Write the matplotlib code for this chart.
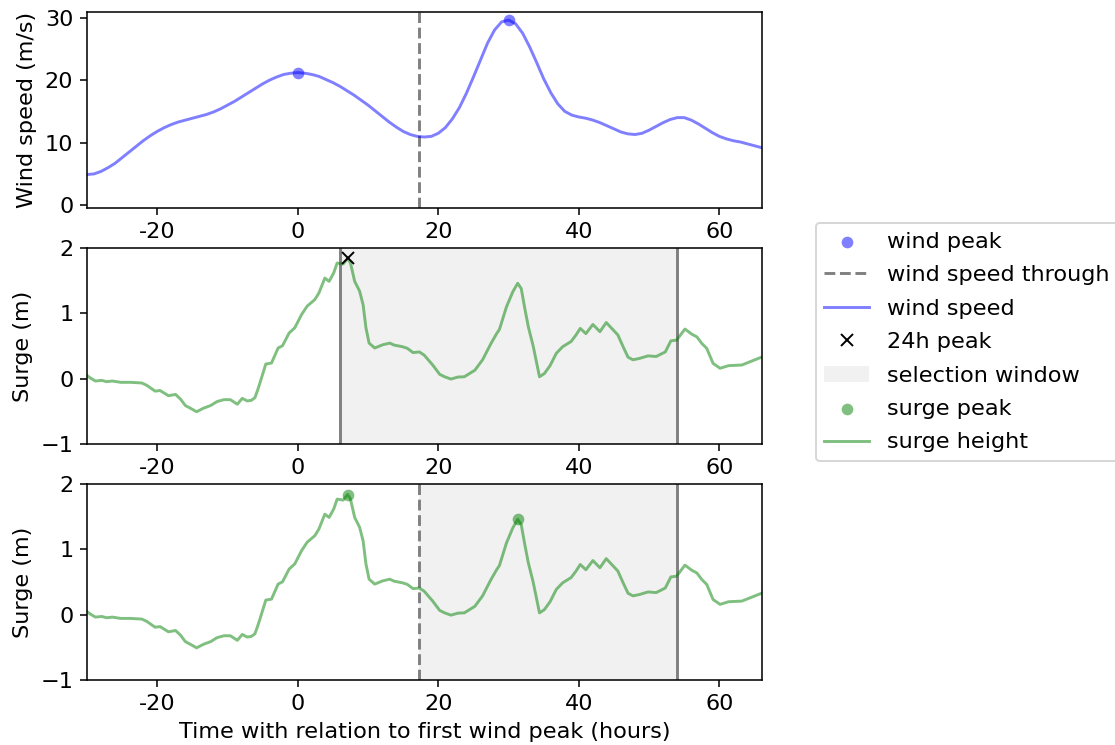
import matplotlib
matplotlib.use('Agg')
import matplotlib.pyplot as plt
import numpy as np

plt.rcParams['font.size'] = 11.5

# wind speed, hourly, relative to first wind peak
hours = np.arange(-30, 67)
wind_speed = [4.9, 5.0, 5.4, 6.0, 6.7, 7.6, 8.5, 9.4, 10.3, 11.1,
              11.8, 12.4, 12.9, 13.3, 13.6, 13.9, 14.2, 14.5, 14.9, 15.4,
              16.0, 16.6, 17.3, 18.0, 18.7, 19.4, 20.0, 20.5, 20.9, 21.1,
              21.2, 21.1, 20.9, 20.6, 20.1, 19.6, 19.0, 18.3, 17.6, 16.8,
              16.0, 15.1, 14.2, 13.3, 12.5, 11.8, 11.3, 11.0, 10.9, 11.0,
              11.5, 12.4, 13.8, 15.6, 17.9, 20.5, 23.2, 25.9, 28.0, 29.3,
              29.6, 29.0, 27.5, 25.3, 22.8, 20.2, 18.0, 16.2, 15.0, 14.4,
              14.1, 13.9, 13.6, 13.2, 12.7, 12.2, 11.7, 11.4, 11.3, 11.5,
              12.0, 12.6, 13.2, 13.7, 14.0, 14.0, 13.6, 13.0, 12.3, 11.6,
              11.0, 10.6, 10.3, 10.1, 9.8, 9.5, 9.2]

# surge height
surge_time = [-30.0, -29.5, -28.8, -27.9, -27.2, -26.4, -25.2, -23.8, -22.2, -21.5,
              -20.3, -19.6, -18.4, -17.4, -16.7, -16.0, -15.3, -14.4, -13.4, -12.4,
              -11.5, -10.5, -9.6, -8.6, -7.9, -7.2, -6.6, -6.1, -5.7, -5.4,
              -4.55, -3.74, -2.8, -2.17, -1.23, -0.42, 0.53, 1.33, 2.42, 3.0,
              3.85, 4.46, 5.12, 5.6, 6.45, 7.1, 7.5, 8.1, 8.8, 9.3,
              9.7, 10.15, 10.95, 12.1, 13.1, 13.7, 14.9, 15.6, 16.4, 17.3,
              18.0, 19.2, 20.2, 20.9, 21.8, 22.8, 23.7, 25.2, 26.3, 27.5,
              28.3, 28.7, 29.7, 30.6, 31.3, 31.8, 32.3, 32.8, 33.5, 34.4,
              35.1, 35.9, 36.8, 37.7, 38.9, 39.6, 40.2, 41.0, 42.0, 43.0,
              43.9, 44.9, 45.55, 46.3, 47.0, 47.7, 48.6, 49.85, 51.0, 52.3,
              53.1, 53.9, 55.1, 56.1, 56.8, 57.5, 58.2, 59.1, 60.1, 61.3,
              63.2, 64.6, 66.0]
surge_height = [0.05, 0.01, -0.035, -0.025, -0.045, -0.035, -0.055, -0.055, -0.065, -0.10,
                -0.19, -0.18, -0.26, -0.24, -0.31, -0.41, -0.45, -0.505, -0.45, -0.41,
                -0.35, -0.32, -0.32, -0.39, -0.30, -0.34, -0.33, -0.29, -0.17, -0.07,
                0.225, 0.24, 0.47, 0.505, 0.70, 0.78, 0.98, 1.11, 1.21, 1.31,
                1.54, 1.49, 1.62, 1.77, 1.755, 1.84, 1.77, 1.49, 1.34, 1.13,
                0.78, 0.545, 0.47, 0.52, 0.545, 0.515, 0.49, 0.465, 0.40, 0.41,
                0.36, 0.21, 0.067, 0.03, -0.005, 0.026, 0.03, 0.13, 0.29, 0.54,
                0.69, 0.755, 1.10, 1.33, 1.46, 1.38, 1.08, 0.80, 0.50, 0.03,
                0.08, 0.20, 0.39, 0.49, 0.57, 0.67, 0.77, 0.69, 0.83, 0.72,
                0.86, 0.745, 0.67, 0.49, 0.33, 0.29, 0.31, 0.35, 0.34, 0.41,
                0.58, 0.59, 0.76, 0.68, 0.64, 0.54, 0.465, 0.235, 0.16, 0.20,
                0.21, 0.27, 0.33]

wind_peak_times = [0, 30]
trough_time = 17.3
window = (6, 54)
peak24_time = 7.1
surge_peak_times = [7.1, 31.3]

xtick_values = [-20, 0, 20, 40, 60]
xtick_labels = ['-20', '0', '20', '40', '60']

wind_color = 'blue'
surge_color = 'green'

fig, axes = plt.subplots(3, 1, figsize=(1115 / 140, 745 / 140), dpi=140)
fig.subplots_adjust(left=0.078, right=0.683, top=0.984, bottom=0.087, hspace=0.204)
ax0, ax1, ax2 = axes

# top: wind speed
wp_vals = [wind_speed[list(hours).index(t)] for t in wind_peak_times]
h_wpeak = ax0.scatter(wind_peak_times, wp_vals, color=wind_color, alpha=0.5,
                      linewidths=0, zorder=3)
h_trough = ax0.axvline(trough_time, color='gray', linestyle='--')
h_wind, = ax0.plot(hours, wind_speed, color=wind_color, alpha=0.5)
ax0.set_ylim(-0.45, 30.9)
ax0.set_yticks([0, 10, 20, 30])
ax0.set_ylabel('Wind speed (m/s)')

# middle: 24h peak and selection window
h_window = ax1.axvspan(window[0], window[1], color='lightgrey', alpha=0.3, lw=0)
ax1.axvline(window[0], color='gray')
ax1.axvline(window[1], color='gray')
h_surge, = ax1.plot(surge_time, surge_height, color=surge_color, alpha=0.5)
p24 = surge_height[surge_time.index(peak24_time)]
h_24, = ax1.plot([peak24_time], [p24], color='black', marker='x', linestyle='none', zorder=3)
ax1.set_ylabel('Surge (m)')

# bottom: surge peaks after the wind trough
ax2.axvspan(trough_time, window[1], color='lightgrey', alpha=0.3, lw=0)
ax2.axvline(trough_time, color='gray', linestyle='--')
ax2.axvline(window[1], color='gray')
ax2.plot(surge_time, surge_height, color=surge_color, alpha=0.5)
sp_vals = [surge_height[surge_time.index(t)] for t in surge_peak_times]
h_speak = ax2.scatter(surge_peak_times, sp_vals, color=surge_color, alpha=0.5,
                      linewidths=0, zorder=3)
ax2.set_ylabel('Surge (m)')
ax2.set_xlabel('Time with relation to first wind peak (hours)')

for ax in (ax1, ax2):
    ax.set_ylim(-1, 2)
    ax.set_yticks([-1, 0, 1, 2])

for ax in axes:
    ax.set_xlim(-30, 66)
    ax.set_xticks(xtick_values)
    ax.set_xticklabels(xtick_labels)

handles = [h_wpeak, h_trough, h_wind, h_24, h_window, h_speak, h_surge]
labels = ['wind peak', 'wind speed through', 'wind speed', '24h peak',
          'selection window', 'surge peak', 'surge height']
ax1.legend(handles, labels, loc='center left', bbox_to_anchor=(1.08, 0.52),
           borderaxespad=0, labelspacing=0.6)

fig.savefig('out.png', dpi=140)
